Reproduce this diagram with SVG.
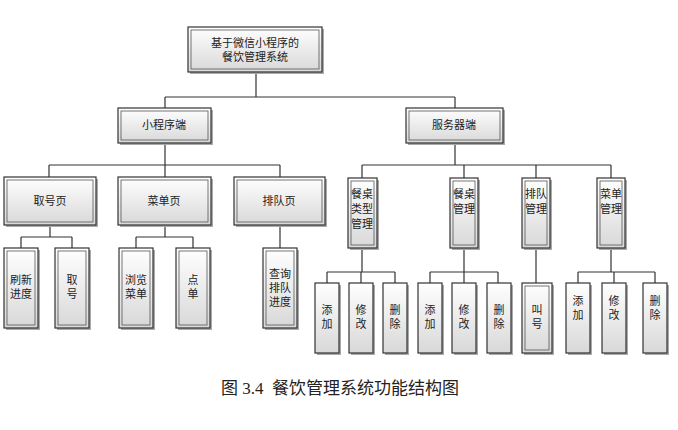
<svg xmlns="http://www.w3.org/2000/svg" width="678" height="430" viewBox="0 0 678 430">
<defs>
<linearGradient id="g" x1="0" y1="0" x2="0" y2="1"><stop offset="0" stop-color="#ffffff"/><stop offset="1" stop-color="#d8d8d8"/></linearGradient>
</defs>
<style>
.b{fill:url(#g);stroke:#333;stroke-width:1.2}
.i{fill:none;stroke:#555;stroke-width:0.8}
.s{fill:#aaa}
text{font-family:"Liberation Serif","Noto Sans CJK SC",serif;font-size:11px;fill:#222;text-anchor:middle}
.c line,.c path{stroke:#333;stroke-width:1.2;fill:none}
</style>
<rect width="678" height="430" fill="#fff"/>
<g class="c">
<path d="M256 72V97M165 97H455M165 97V108M455 97V108"/>
<path d="M165 143V165M49 165H280M49 165V177M165 165V177M280 165V177"/>
<path d="M455 143V165M362 165H611M362 165V178M464 165V178M536 165V178M611 165V178"/>
<path d="M50 225V237M21 237H72M21 237V248M72 237V248"/>
<path d="M165 225V237M136 237H193M136 237V248M193 237V248"/>
<path d="M280 225V248"/>
<path d="M362 248V272M327 272H395M327 272V283M361 272V283M395 272V283"/>
<path d="M464 248V272M430 272H498M430 272V283M464 272V283M498 272V283"/>
<path d="M536 248V283"/>
<path d="M611 248V272M578 272H655M578 272V283M614 272V283M655 272V283"/>
</g>
<g id="root"><rect class="s" x="190" y="29" width="134" height="45"/><rect class="b" x="188" y="27" width="134" height="45"/><rect class="i" x="191" y="30" width="128" height="39"/><text x="255" y="47">基于微信小程序的</text><text x="255" y="61">餐饮管理系统</text></g>
<g id="mini"><rect class="s" x="120" y="110" width="93" height="35"/><rect class="b" x="118" y="108" width="93" height="35"/><rect class="i" x="121" y="111" width="87" height="29"/><text x="164" y="129">小程序端</text></g>
<g id="server"><rect class="s" x="408" y="110" width="97" height="35"/><rect class="b" x="406" y="108" width="97" height="35"/><rect class="i" x="409" y="111" width="91" height="29"/><text x="454" y="129">服务器端</text></g>
<g id="p1"><rect class="s" x="6" y="179" width="92" height="48"/><rect class="b" x="4" y="177" width="92" height="48"/><rect class="i" x="7" y="180" width="86" height="42"/><text x="50" y="205">取号页</text></g>
<g id="p2"><rect class="s" x="120" y="179" width="93" height="48"/><rect class="b" x="118" y="177" width="93" height="48"/><rect class="i" x="121" y="180" width="87" height="42"/><text x="164" y="205">菜单页</text></g>
<g id="p3"><rect class="s" x="236" y="179" width="91" height="48"/><rect class="b" x="234" y="177" width="91" height="48"/><rect class="i" x="237" y="180" width="85" height="42"/><text x="279" y="205">排队页</text></g>
<g id="l1"><rect class="s" x="6" y="250" width="34" height="80"/><rect class="b" x="4" y="248" width="34" height="80"/><rect class="i" x="7" y="251" width="28" height="74"/><text x="21" y="284">刷新</text><text x="21" y="298">进度</text></g>
<g id="l2"><rect class="s" x="57" y="250" width="34" height="80"/><rect class="b" x="55" y="248" width="34" height="80"/><rect class="i" x="58" y="251" width="28" height="74"/><text x="72" y="284">取</text><text x="72" y="298">号</text></g>
<g id="l3"><rect class="s" x="121" y="250" width="34" height="80"/><rect class="b" x="119" y="248" width="34" height="80"/><rect class="i" x="122" y="251" width="28" height="74"/><text x="136" y="284">浏览</text><text x="136" y="298">菜单</text></g>
<g id="l4"><rect class="s" x="178" y="250" width="34" height="80"/><rect class="b" x="176" y="248" width="34" height="80"/><rect class="i" x="179" y="251" width="28" height="74"/><text x="193" y="284">点</text><text x="193" y="298">单</text></g>
<g id="l5"><rect class="s" x="265" y="250" width="34" height="80"/><rect class="b" x="263" y="248" width="34" height="80"/><rect class="i" x="266" y="251" width="28" height="74"/><text x="280" y="278">查询</text><text x="280" y="292">排队</text><text x="280" y="306">进度</text></g>
<g id="s1"><rect class="s" x="350" y="180" width="29" height="70"/><rect class="b" x="348" y="178" width="29" height="70"/><rect class="i" x="351" y="181" width="23" height="64"/><text x="362" y="198">餐桌</text><text x="362" y="213">类型</text><text x="362" y="228">管理</text></g>
<g id="s2"><rect class="s" x="452" y="180" width="28" height="70"/><rect class="b" x="450" y="178" width="28" height="70"/><rect class="i" x="453" y="181" width="22" height="64"/><text x="464" y="198">餐桌</text><text x="464" y="213">管理</text></g>
<g id="s3"><rect class="s" x="524" y="180" width="28" height="70"/><rect class="b" x="522" y="178" width="28" height="70"/><rect class="i" x="525" y="181" width="22" height="64"/><text x="536" y="198">排队</text><text x="536" y="213">管理</text></g>
<g id="s4"><rect class="s" x="599" y="180" width="28" height="70"/><rect class="b" x="597" y="178" width="28" height="70"/><rect class="i" x="600" y="181" width="22" height="64"/><text x="611" y="198">菜单</text><text x="611" y="213">管理</text></g>
<g id="a1"><rect class="s" x="317" y="285" width="24" height="70"/><rect class="b" x="315" y="283" width="24" height="70"/><text x="327" y="314">添</text><text x="327" y="328">加</text></g>
<g id="a2"><rect class="s" x="351" y="285" width="24" height="70"/><rect class="b" x="349" y="283" width="24" height="70"/><text x="361" y="314">修</text><text x="361" y="328">改</text></g>
<g id="a3"><rect class="s" x="385" y="285" width="24" height="70"/><rect class="b" x="383" y="283" width="24" height="70"/><text x="395" y="314">删</text><text x="395" y="328">除</text></g>
<g id="b1"><rect class="s" x="420" y="285" width="24" height="70"/><rect class="b" x="418" y="283" width="24" height="70"/><text x="430" y="314">添</text><text x="430" y="328">加</text></g>
<g id="b2"><rect class="s" x="454" y="285" width="24" height="70"/><rect class="b" x="452" y="283" width="24" height="70"/><text x="464" y="314">修</text><text x="464" y="328">改</text></g>
<g id="b3"><rect class="s" x="489" y="285" width="24" height="70"/><rect class="b" x="487" y="283" width="24" height="70"/><text x="499" y="314">删</text><text x="499" y="328">除</text></g>
<g id="c1"><rect class="s" x="524" y="285" width="30" height="70"/><rect class="b" x="522" y="283" width="30" height="70"/><rect class="i" x="525" y="286" width="24" height="64"/><text x="537" y="314">叫</text><text x="537" y="328">号</text></g>
<g id="d1"><rect class="s" x="568" y="285" width="24" height="70"/><rect class="b" x="566" y="283" width="24" height="70"/><text x="578" y="305">添</text><text x="578" y="319">加</text></g>
<g id="d2"><rect class="s" x="604" y="285" width="24" height="70"/><rect class="b" x="602" y="283" width="24" height="70"/><text x="614" y="305">修</text><text x="614" y="319">改</text></g>
<g id="d3"><rect class="s" x="645" y="285" width="24" height="70"/><rect class="b" x="643" y="283" width="24" height="70"/><text x="655" y="305">删</text><text x="655" y="319">除</text></g>
<text x="340" y="394" style="font-size:17px;white-space:pre">图 3.4  餐饮管理系统功能结构图</text>
</svg>
